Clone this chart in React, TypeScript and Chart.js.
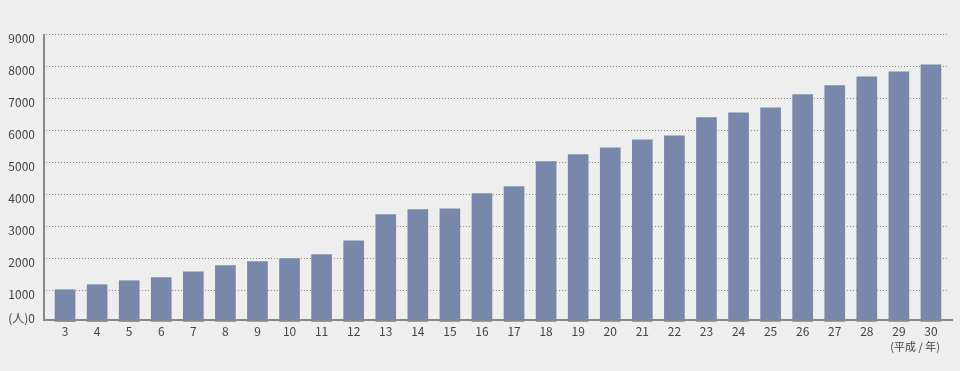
import React, { useEffect, useRef } from "react";
import { Chart, registerables } from "chart.js";

Chart.register(...registerables);

const categories: string[] = [
  "3", "4", "5", "6", "7", "8", "9", "10", "11", "12", "13", "14", "15", "16",
  "17", "18", "19", "20", "21", "22", "23", "24", "25", "26", "27", "28", "29", "30",
];

const people: number[] = [
  1010, 1165, 1290, 1385, 1570, 1760, 1885, 1980, 2105, 2540, 3355, 3510, 3540, 4010,
  4230, 5010, 5230, 5445, 5695, 5820, 6385, 6540, 6695, 7105, 7385, 7665, 7820, 8040,
];

const yTickValues: number[] = [0, 1000, 2000, 3000, 4000, 5000, 6000, 7000, 8000, 9000];
const yUnitLabel = "(人)";
const xUnitLabel = "(平成 / 年)";

const FONT = "'Noto Sans CJK JP', 'Noto Sans', sans-serif";
const TEXT = "#444444";
const AXIS = "#888888";
const BAR = "#7788aa";
const BG = "#eeeeee";

const axisPlugin = {
  id: "axisLines",
  afterDatasetsDraw(chart: any) {
    const { ctx, chartArea, scales } = chart;
    const y0 = scales.y.getPixelForValue(0);
    const yTop = scales.y.getPixelForValue(9000);
    ctx.save();
    ctx.strokeStyle = AXIS;
    ctx.lineWidth = 2;
    ctx.beginPath();
    ctx.moveTo(chartArea.left - 5, yTop);
    ctx.lineTo(chartArea.left - 5, y0 - 1);
    ctx.moveTo(chartArea.left - 6, y0 - 2);
    ctx.lineTo(chartArea.right + 6, y0 - 2);
    ctx.stroke();
    ctx.restore();
  },
  afterDraw(chart: any) {
    const { ctx, chartArea } = chart;
    ctx.save();
    ctx.fillStyle = TEXT;
    ctx.font = `11px ${FONT}`;
    ctx.textAlign = "right";
    ctx.textBaseline = "middle";
    ctx.fillText(xUnitLabel, chartArea.right - 7, 346.5);
    ctx.restore();
  },
};

export default function App() {
  const canvasRef = useRef<HTMLCanvasElement | null>(null);

  useEffect(() => {
    document.body.style.margin = "0";
    document.body.style.background = BG;
    const canvas = canvasRef.current;
    if (!canvas) return;
    const chart = new Chart(canvas, {
      type: "bar",
      data: {
        labels: categories,
        datasets: [
          {
            data: people,
            backgroundColor: BAR,
            borderWidth: 0,
            barThickness: 20,
          },
        ],
      },
      options: {
        responsive: false,
        animation: false,
        devicePixelRatio: 1,
        layout: { padding: { top: 34, right: 13, left: 0, bottom: 0 } },
        plugins: {
          legend: { display: false },
          tooltip: { enabled: false },
        },
        scales: {
          x: {
            grid: { display: false, drawTicks: false },
            border: { display: false },
            ticks: {
              color: TEXT,
              font: { family: FONT, size: 12 },
              padding: 2,
              maxRotation: 0,
              autoSkip: false,
            },
            afterFit(scale: any) {
              scale.height = 49;
            },
          },
          y: {
            min: 0,
            max: 9000,
            afterBuildTicks(scale: any) {
              scale.ticks = yTickValues.map((v) => ({ value: v }));
            },
            grid: {
              color: (ctx: any) => (ctx.tick && ctx.tick.value === 0 ? "rgba(0,0,0,0)" : AXIS),
              lineWidth: 1,
              drawTicks: true,
              tickLength: 3,
              tickBorderDash: [1, 2],
              tickColor: (ctx: any) => (ctx.tick && ctx.tick.value === 0 ? "rgba(0,0,0,0)" : AXIS),
            },
            border: { display: false, dash: [1, 2] },
            ticks: {
              color: TEXT,
              font: { family: FONT, size: 12 },
              padding: 11,
              labelOffset: 4,
              callback: (value: any) => (Number(value) === 0 ? [yUnitLabel + "0", ""] : String(value)),
            },
            afterFit(scale: any) {
              scale.width = 49;
            },
          },
        },
      },
      plugins: [axisPlugin],
    });
    return () => chart.destroy();
  }, []);

  return (
    <div style={{ width: 960, height: 371, background: BG }}>
      <canvas ref={canvasRef} width={960} height={371} style={{ display: "block" }} />
    </div>
  );
}
